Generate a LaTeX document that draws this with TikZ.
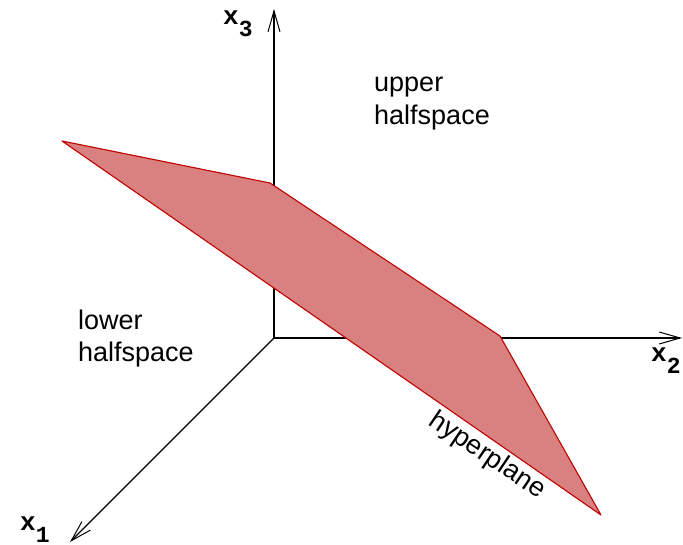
\documentclass[tikz,border=0pt]{standalone}
\usepackage{fontspec}
\setmainfont{Liberation Sans}
\newfontfamily\monob{Liberation Mono}
\usetikzlibrary{arrows.meta}
\definecolor{planefill}{RGB}{217,128,128}
\definecolor{planeedge}{RGB}{192,0,0}
\newcommand{\axsub}[1]{\raisebox{-12pt}{\fontsize{23}{24}\selectfont #1}}
\tikzset{
  axis/.style={line width=1.1pt, -{Straight Barb[length=21pt,width=12pt,line width=1pt]}},
  axlabel/.style={font=\monob\bfseries\fontsize{26}{28}\selectfont, inner sep=0pt, anchor=base west},
  txt/.style={font=\fontsize{27}{33}\selectfont, inner sep=0pt, anchor=base west},
}
\begin{document}
\begin{tikzpicture}[x=1pt,y=-1pt]
\useasboundingbox (0,0) rectangle (683,545);
\coordinate (O) at (274,338);
\coordinate (E3) at (274,9);
\coordinate (E2) at (682,338);
\coordinate (E1) at (70,542);
\draw[axis] (O) -- (E3);
\draw[axis] (O) -- (E2);
\draw[axis] (O) -- (E1);
\coordinate (A) at (62,141);
\coordinate (B) at (270,183);
\coordinate (C) at (500,336);
\coordinate (D) at (601,515);
\filldraw[fill=planefill, draw=planeedge, line width=1.1pt, line join=round] (A) -- (B) -- (C) -- (D) -- cycle;
\node[axlabel] (l3) at (223,25) {x\axsub{3}};
\node[axlabel] (l2) at (651,362) {x\axsub{2}};
\node[axlabel] (l1) at (20,530) {x\axsub{1}};
\node[txt] (up1) at (374,92) {upper};
\node[txt] (up2) at (374,125) {halfspace};
\node[txt] (low1) at (78,330) {lower};
\node[txt] (low2) at (78,362) {halfspace};
\node[font=\fontsize{27}{30}\selectfont, rotate=-34, inner sep=0pt] (hp) at (487,456) {hyperplane};
\end{tikzpicture}
\end{document}
